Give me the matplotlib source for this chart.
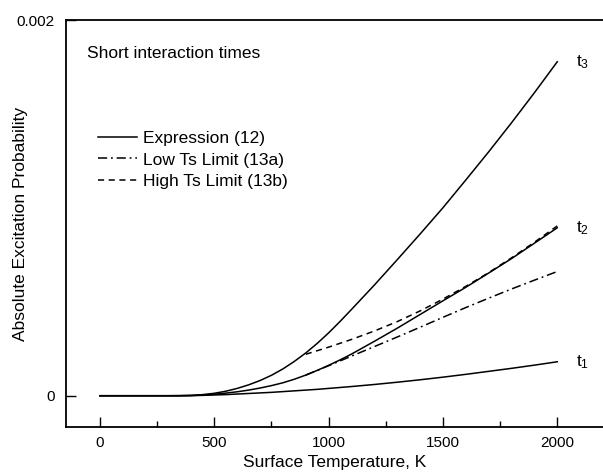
import numpy as np
import matplotlib
matplotlib.use("Agg")
import matplotlib.pyplot as plt

plt.rcParams['font.family'] = ['Liberation Sans', 'DejaVu Sans']
plt.rcParams['mathtext.fontset'] = 'custom'
plt.rcParams['mathtext.rm'] = 'Liberation Sans'
plt.rcParams['mathtext.it'] = 'Liberation Sans'

# Surface temperature grid (K) and exact expression (12) for three times
T = [0, 100, 200, 300, 350, 400, 450, 500, 550, 600, 650, 700, 750, 800, 850, 900, 950, 1000,
     1050, 1100, 1200, 1300, 1400, 1500, 1600, 1700, 1800, 1900, 2000]
p_t1 = [0, 0, 0, 0, 0, 0.0000005, 0.000002, 0.000004, 0.000006, 0.000009, 0.000012, 0.000015,
        0.000018, 0.000022, 0.000026, 0.00003, 0.000034, 0.000039,
        0.000044, 0.000049, 0.00006, 0.000072, 0.000085, 0.000099, 0.000114, 0.00013, 0.000146, 0.000163, 0.000181]
p_t2 = [0, 0, 0, 0, 0.0000003, 0.000001, 0.000004, 0.000008, 0.000014, 0.000021, 0.00003, 0.000041,
        0.000054, 0.000069, 0.000088, 0.00011, 0.000135, 0.000162,
        0.000191, 0.000222, 0.00029, 0.00036, 0.000433, 0.000506, 0.000578, 0.000654, 0.000731, 0.000813, 0.000895]
p_t3 = [0, 0, 0, 0, 0.0000005, 0.000002, 0.000006, 0.000013, 0.000024, 0.000039, 0.000058, 0.000081,
        0.000109, 0.000143, 0.000183, 0.000228, 0.000279, 0.000335,
        0.000396, 0.00046, 0.00059, 0.000725, 0.000862, 0.001002, 0.00115, 0.0013, 0.001455, 0.001615, 0.00178]

# limits for t2, high temperatures only
T_lim = [900, 1000, 1100, 1200, 1300, 1400, 1500, 1600, 1700, 1800, 1900, 2000]
low_ts = [0.00011, 0.00016, 0.000211, 0.000262, 0.000313, 0.000365, 0.000418,
          0.00047, 0.00052, 0.000569, 0.000616, 0.000662]
high_ts = [0.000221, 0.000259, 0.0003, 0.000345, 0.000395, 0.000452, 0.000515,
           0.000583, 0.000656, 0.000735, 0.000818, 0.000905]

fig = plt.figure(figsize=(6.03, 4.72), dpi=100)
ax = fig.add_axes([0.109, 0.096, 0.891, 0.8606])

lw = 1.1
ax.plot(T, p_t1, "k-", lw=lw)
ax.plot(T, p_t2, "k-", lw=lw, label="Expression (12)")
ax.plot(T, p_t3, "k-", lw=lw)
ax.plot(T_lim, low_ts, color="k", lw=lw, dashes=(6, 2.5, 1.2, 2.5), label="Low Ts Limit (13a)")
ax.plot(T_lim, high_ts, color="k", lw=lw, dashes=(4, 3), label="High Ts Limit (13b)")

ax.text(2080, p_t3[-1], "t$_3$", fontsize=12.5, va="center", ha="left")
ax.text(2080, p_t2[-1], "t$_2$", fontsize=12.5, va="center", ha="left")
ax.text(2080, p_t1[-1], "t$_1$", fontsize=12.5, va="center", ha="left")

ax.text(0.040, 0.9175, "Short interaction times", transform=ax.transAxes,
        fontsize=12.5, va="center", ha="left")

ax.legend(loc="upper left", bbox_to_anchor=(0.06, 0.728), frameon=False,
          fontsize=12.5, handlelength=2.25, handletextpad=0.35,
          labelspacing=0.36, borderpad=0, borderaxespad=0)

ax.set_xlim(-150, 2200)
ax.set_ylim(-0.000165, 0.002)
ax.set_xticks([0, 500, 1000, 1500, 2000])
ax.set_xticks([250, 750, 1250, 1750], minor=True)
ax.set_yticks([0, 0.002])
ax.set_yticklabels(["0", "0.002"])
ax.tick_params(direction="in", length=7, width=1, labelsize=11, pad=8)
ax.tick_params(which="minor", direction="in", length=4, width=1)
ax.tick_params(axis="x", pad=7)
for s in ["left", "bottom", "top"]:
    ax.spines[s].set_linewidth(1.3)
ax.spines["right"].set_visible(False)

ax.set_xlabel("Surface Temperature, K", fontsize=12.5, labelpad=3)
ax.set_ylabel("Absolute Excitation Probability", fontsize=12.5)
ax.yaxis.set_label_coords(-0.07, 0.5)

fig.savefig("out.png", dpi=100)
